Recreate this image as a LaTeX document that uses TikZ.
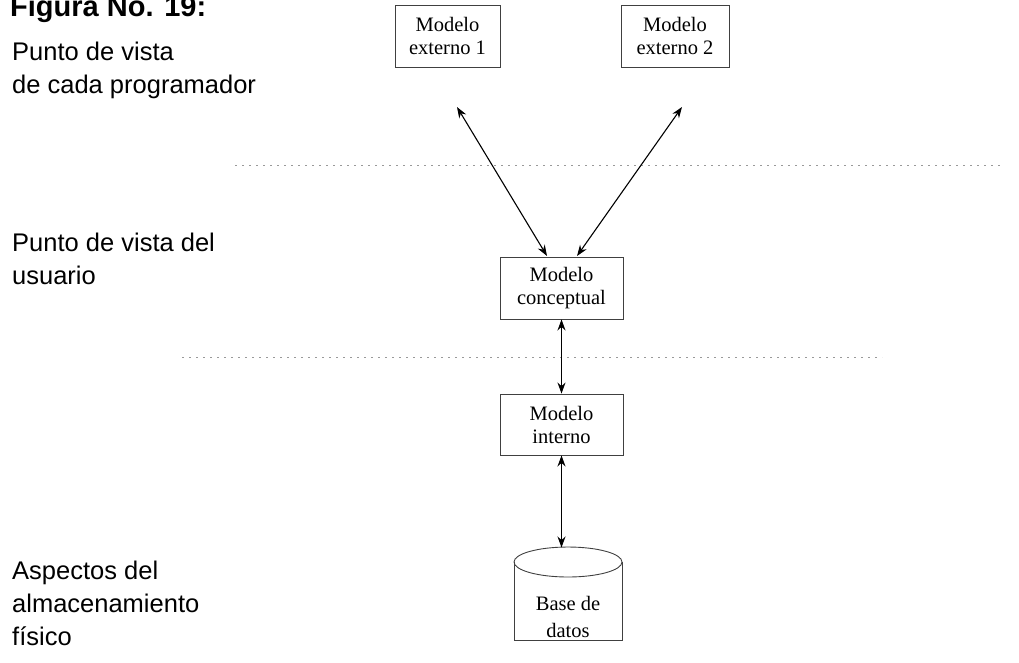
\documentclass[tikz,border=0pt]{standalone}
\usepackage{fontspec}
\setmainfont{Liberation Serif}
\newfontfamily\labelfont{Liberation Sans}
\usetikzlibrary{arrows.meta}
\tikzset{
  model/.style={draw=black!75, line width=0.9pt, align=center,
    font=\fontsize{20.5}{23}\selectfont, inner sep=0pt},
  side/.style={anchor=base west, align=left, inner sep=0pt,
    font=\labelfont\fontsize{25.5}{33}\selectfont},
  level/.style={draw=black!40, line width=1pt, dash pattern=on 2pt off 5pt},
  link/.style={line width=1.1pt, {Stealth[length=11pt,width=8pt]}-{Stealth[length=11pt,width=8pt]}}
}
\begin{document}
\begin{tikzpicture}[x=1pt, y=-1pt]
\useasboundingbox (0,0) rectangle (1019,662);

% title and the three levels of view (base anchor sits on the last line)
\node[side, font=\labelfont\bfseries\fontsize{29}{34}\selectfont] (title) at (10,16) {Figura No. 19:};
\node[side] (lv1) at (12,93) {Punto de vista\\de cada programador};
\node[side] (lv2) at (12,284) {Punto de vista del\\usuario};
\node[side] (lv3) at (12,645) {Aspectos del\\almacenamiento\\físico};

% separators between the levels
\draw[level] (235,165) -- (1000,165);
\draw[level] (182,357) -- (882,357);

% models
\node[model, minimum width=105pt, minimum height=62pt] (ext1) at (447.5,36) {Modelo\\externo 1};
\node[model, minimum width=108pt, minimum height=62pt] (ext2) at (675,36) {Modelo\\externo 2};
\node[model, minimum width=123pt, minimum height=62pt] (conc) at (561.5,288) {Modelo\\conceptual};
\node[model, minimum width=123pt, minimum height=61pt] (int) at (561.5,424.5) {Modelo\\interno};

% database cylinder
\draw[draw=black!75, line width=0.9pt] (568,562) ellipse [x radius=54, y radius=15];
\draw[draw=black!75, line width=0.9pt] (514,562) -- (514,640) -- (622,640) -- (622,562);
\node[align=center, inner sep=0pt, font=\fontsize{20.5}{27}\selectfont] (db) at (568,617) {Base de\\datos};
\coordinate (dbtop) at (561.5,547.5);

% connector ends
\coordinate (e1) at (457,107);
\coordinate (e2) at (682,107);
\coordinate (c1) at (547,256);
\coordinate (c2) at (577,256);

% connectors
\draw[link] (e1) -- (c1);
\draw[link] (e2) -- (c2);
\draw[link] (conc.south) -- (int.north);
\draw[link] (int.south) -- (dbtop);
\end{tikzpicture}
\end{document}
